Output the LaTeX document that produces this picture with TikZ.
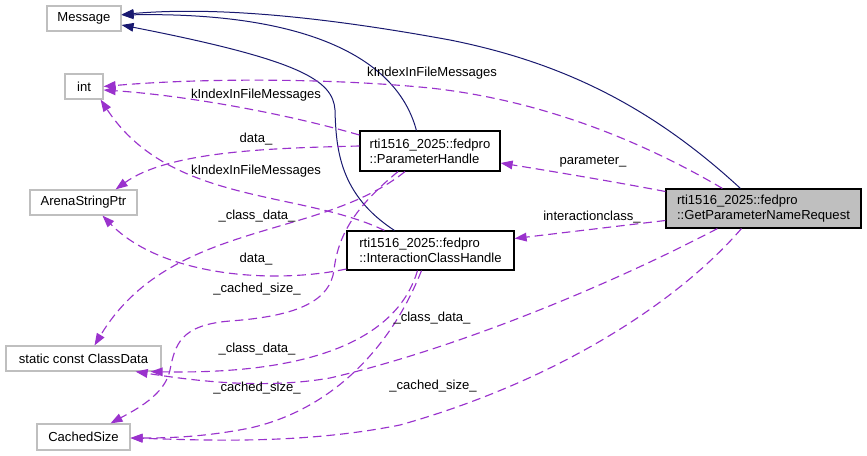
\documentclass[tikz,border=0pt]{standalone}
\usepackage{fontspec}
\setmainfont{Liberation Sans}
\usetikzlibrary{arrows.meta,calc}
\definecolor{dblue}{HTML}{191970}
\definecolor{dpurple}{HTML}{9A32CD}
\definecolor{lgray}{HTML}{BFBFBF}
\begin{document}
\begin{tikzpicture}[x=0.75pt,y=-0.75pt,
  every node/.style={font=\fontsize{9.8}{11.25}\selectfont},
  gbox/.style={draw=lgray,line width=0.9pt,fill=white,inner sep=0pt},
  bbox/.style={draw=black,line width=0.9pt,fill=white,inner sep=0pt,align=left},
  inh/.style={draw=dblue,line width=0.75pt,-{Triangle[length=9pt,width=6.5pt]}},
  usage/.style={draw=dpurple,line width=0.85pt,dash pattern=on 6.5pt off 3.75pt,-{Triangle[length=9pt,width=6.5pt]}},
  lbl/.style={anchor=base,inner sep=0pt}]
\useasboundingbox[fill=white] (0,0) rectangle (867,456);
% nodes
\node[gbox,minimum width=55.5pt,minimum height=18.75pt] (msg) at (84,18.5) {Message};
\node[gbox,minimum width=28.5pt,minimum height=18.75pt] (int) at (84,86.5) {int};
\node[gbox,minimum width=80.25pt,minimum height=18.75pt] (asp) at (83.5,202.5) {ArenaStringPtr};
\node[gbox,minimum width=116.25pt,minimum height=18.75pt] (cd) at (83.5,358.5) {static const ClassData};
\node[gbox,minimum width=69.75pt,minimum height=19.5pt] (cs) at (83.5,437) {CachedSize};
\node[bbox,minimum width=105pt,minimum height=30pt] (ph) at (430,151) {rti1516\_2025::fedpro\\::ParameterHandle};
\node[bbox,minimum width=125.25pt,minimum height=29.25pt] (ich) at (430.5,250.5) {rti1516\_2025::fedpro\\::InteractionClassHandle};
\node[bbox,fill=lgray,minimum width=146.25pt,minimum height=29.25pt] (gpnr) at (763.5,208.5) {rti1516\_2025::fedpro\\::GetParameterNameRequest};
% inheritance edges
\draw[inh] ($(gpnr.north west)+(75,0)$) .. controls (650,105) and (560,62) .. (450,40)
  .. controls (330,18) and (220,6) .. ($(msg.east)+(0,-4)$);
\draw[inh] ($(ph.north west)+(57,0)$) .. controls (395,50) and (290,12) .. ($(msg.east)+(0,-3.5)$);
\draw[inh] ($(ich.north west)+(48,0)$) .. controls (340,195) and (336,150) .. (335,110)
  .. controls (333,80) and (300,60) .. ($(msg.east)+(0,6.5)$);
% usage edges
\draw[usage] ($(gpnr.north west)+(57,0)$) .. controls (640,140) and (540,100) .. (430,88)
  .. controls (330,78) and (200,78) .. (int.east);
\draw[usage] ($(ph.west)+(0,-16)$) .. controls (280,112) and (180,95) .. ($(int.east)+(0,3.5)$);
\draw[usage] ($(ich.north west)+(38,0)$) .. controls (300,190) and (170,205) .. ($(int.south east)+(-3,0)$);
\draw[usage] ($(ph.west)+(0,-5)$) .. controls (280,148) and (170,150) .. ($(asp.north east)+(-22,0)$);
\draw[usage] ($(ich.west)+(0,18.5)$) .. controls (270,285) and (160,275) .. ($(asp.south)+(19,0)$);
\draw[usage] ($(ph.south)+(-25,0)$) .. controls (320,240) and (170,220) .. ($(cd.north)+(11,0)$);
\draw[usage] ($(ph.south)+(-32,0)$) .. controls (355,207) and (338,235) .. (334,270)
  .. controls (330,300) and (300,316) .. (230,321)
  .. controls (180,325) and (175,345) .. (170,370)
  .. controls (165,395) and (135,410) .. ($(cs.north)+(27,0)$);
\draw[usage] ($(ich.south)+(-13,0)$) .. controls (400,330) and (330,375) .. ($(cd.south east)+(-11,0)$);
\draw[usage] ($(ich.south)+(-9,0)$) .. controls (390,350) and (330,410) .. (250,428)
  .. controls (200,438) and (160,438) .. ($(cs.east)+(0,1)$);
\draw[usage] ($(gpnr.south west)+(52,0)$) .. controls (600,290) and (450,350) .. (330,378)
  .. controls (260,390) and (190,380) .. ($(cd.south east)+(-26,0)$);
\draw[usage] ($(gpnr.south west)+(76,0)$) .. controls (680,300) and (560,380) .. (400,425)
  .. controls (300,445) and (200,440) .. ($(cs.east)+(0,1)$);
\draw[usage] ($(gpnr.west)+(0,-17)$) .. controls (610,181) and (550,171) .. ($(ph.east)+(0,12)$);
\draw[usage] ($(gpnr.west)+(0,12)$) -- ($(ich.east)+(0,-12)$);
% labels
\node[lbl] (l1) at (432,76.5) {kIndexInFileMessages};
\node[lbl] (l2) at (256,98.5) {kIndexInFileMessages};
\node[lbl] (l3) at (256,142.5) {data\_};
\node[lbl] (l4) at (256,175) {kIndexInFileMessages};
\node[lbl] (l5) at (257,219.5) {\_class\_data\_};
\node[lbl] (l6) at (256,262.5) {data\_};
\node[lbl] (l7) at (257,292.5) {\_cached\_size\_};
\node[lbl] (l8) at (257,352.5) {\_class\_data\_};
\node[lbl] (l9) at (257,391.5) {\_cached\_size\_};
\node[lbl] (l10) at (432,321.5) {\_class\_data\_};
\node[lbl] (l11) at (433,389.5) {\_cached\_size\_};
\node[lbl] (l12) at (593,164.5) {parameter\_};
\node[lbl] (l13) at (592,220.5) {interactionclass\_};
\end{tikzpicture}
\end{document}
